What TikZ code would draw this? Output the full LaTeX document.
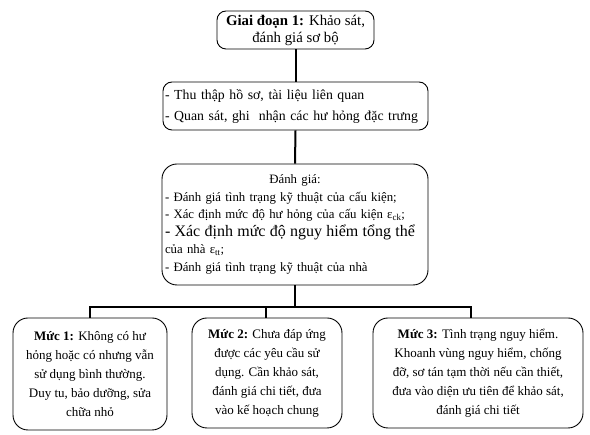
\documentclass[tikz,border=0pt]{standalone}
\usepackage{fontspec}
\setmainfont{Liberation Serif}
\begin{document}
\begin{tikzpicture}[x=1pt,y=-1pt,
  box/.style={draw,line width=0.9pt,rounded corners=12pt,inner sep=2pt,
    font=\fontsize{13}{19}\selectfont},
  conn/.style={line width=2pt}]
\useasboundingbox (0,0) rectangle (590,435);
\node[box,rounded corners=9pt,minimum width=157pt,minimum height=38pt,align=center,
  font=\fontsize{14.8}{17}\selectfont] (gd) at (295.5,30)
  {\textbf{Giai đoạn 1:} Khảo sát,\\ đánh giá sơ bộ};
\node[box,rounded corners=9pt,minimum width=265pt,minimum height=48pt,text width=261pt,align=left,
  font=\fontsize{13.8}{21}\selectfont] (tt) at (295.5,106)
  {- Thu thập hồ sơ, tài liệu liên quan\\- Quan sát, ghi\ \ nhận các hư hỏng đặc trưng};
\node[box,rounded corners=15pt,minimum width=266pt,minimum height=121pt,text width=260pt,align=left,
  font=\fontsize{12.8}{17.5}\selectfont] (dg) at (295,224.5)
  {\makebox[260pt][c]{Đánh giá:}\\
   - Đánh giá tình trạng kỹ thuật của cấu kiện;\\
   - Xác định mức độ hư hỏng của cấu kiện ε\textsubscript{ck};\\
   {\fontsize{16}{17.5}\selectfont\makebox[260pt][s]{- Xác định mức độ nguy hiểm tổng thể}}\\
   của nhà ε\textsubscript{tt};\\
   - Đánh giá tình trạng kỹ thuật của nhà};
\node[box,rounded corners=15pt,minimum width=154pt,minimum height=112pt,align=center] (m1) at (90,374)
  {\textbf{Mức 1:} Không có hư\\ hỏng hoặc có nhưng vẫn\\ sử dụng bình thường.\\ Duy tu, bảo dưỡng, sửa\\ chữa nhỏ};
\node[box,rounded corners=15pt,minimum width=150pt,minimum height=110pt,align=center] (m2) at (267,373)
  {\textbf{Mức 2:} Chưa đáp ứng\\ được các yêu cầu sử\\ dụng. Cần khảo sát,\\ đánh giá chi tiết, đưa\\ vào kế hoạch chung};
\node[box,rounded corners=15pt,minimum width=210pt,minimum height=110pt,align=center] (m3) at (478,373)
  {\textbf{Mức 3:} Tình trạng nguy hiểm.\\ Khoanh vùng nguy hiểm, chống\\ đỡ, sơ tán tạm thời nếu cần thiết,\\ đưa vào diện ưu tiên để khảo sát,\\ đánh giá chi tiết};
\coordinate (bus) at (295,307);
\draw[conn] (gd.south) -- (tt.north);
\draw[conn] (tt.south) -- (dg.north);
\draw[conn] (dg.south) -- (bus);
\draw[conn] (m1.north) -- (m1.north |- bus) -- ([xshift=-7pt]m3.north |- bus) -- ([xshift=-7pt]m3.north);
\draw[conn] ([xshift=-1pt]m2.north) -- ([xshift=-1pt]m2.north |- bus);
\end{tikzpicture}
\end{document}
